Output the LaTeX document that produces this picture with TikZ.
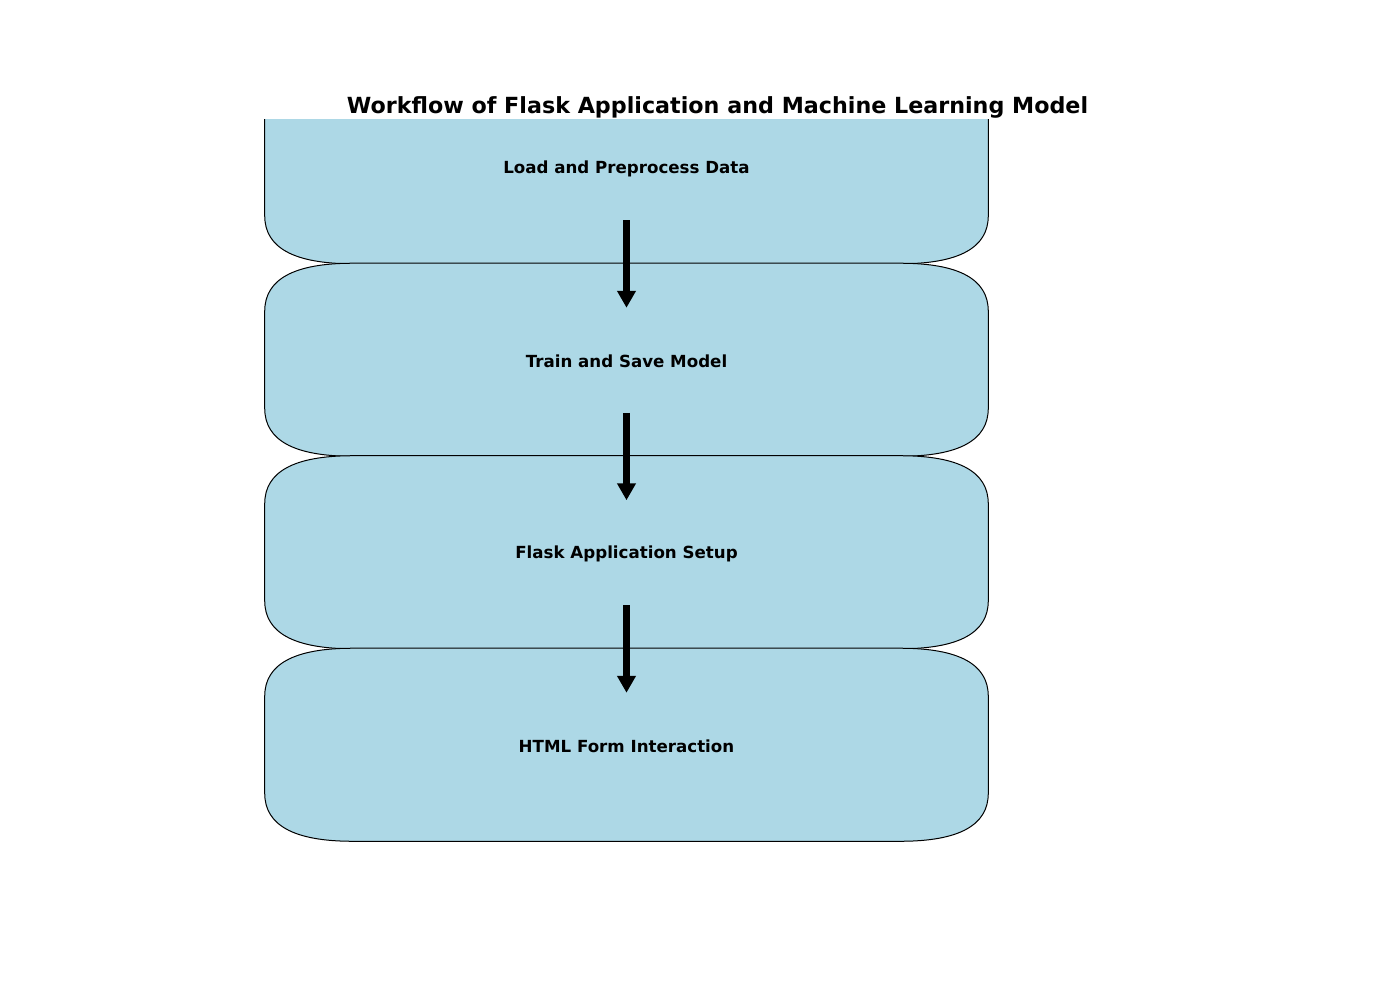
\documentclass[tikz,border=0pt]{standalone}
\usepackage{fontspec}
\setmainfont{DejaVu Sans}
\usetikzlibrary{calc,arrows.meta}
\definecolor{boxfill}{HTML}{ADD8E6}
\newcommand\softbox[1]{%
  \draw[boxline]
    ($(#1.north west)+(0,48)$) -- ($(#1.south west)+(0,-48)$)
    .. controls ($(#1.south west)+(0,-16)$) and ($(#1.south west)+(29.33,0)$) .. ($(#1.south west)+(88,0)$)
    -- ($(#1.south east)+(-88,0)$)
    .. controls ($(#1.south east)+(-29.33,0)$) and ($(#1.south east)+(0,-16)$) .. ($(#1.south east)+(0,-48)$)
    -- ($(#1.north east)+(0,48)$)
    .. controls ($(#1.north east)+(0,16)$) and ($(#1.north east)+(-29.33,0)$) .. ($(#1.north east)+(-88,0)$)
    -- ($(#1.north west)+(88,0)$)
    .. controls ($(#1.north west)+(29.33,0)$) and ($(#1.north west)+(0,16)$) .. cycle;}
\tikzset{
  boxline/.style={draw=black, line width=0.72pt, fill=boxfill},
  stepnode/.style={rectangle, draw=none, inner sep=0pt, minimum width=520.56pt, minimum height=138.6pt,
    font=\bfseries\fontsize{12}{14}\selectfont},
  flowarrow/.style={line width=5.04pt, -{Triangle[width=12.96pt, length=12.24pt]}},
  titlenode/.style={font=\bfseries\fontsize{16}{19}\selectfont}
}
\begin{document}
\begin{tikzpicture}[x=0.72pt, y=-0.72pt]
\fill[white] (0,0) rectangle (1400,1000);
\useasboundingbox (0,0) rectangle (1400,1000);
\node[titlenode] (title) at (717.5,107) {Workflow of Flask Application and Machine Learning Model};
\path (626.5,167.25) node[stepnode] (b1) {}
      (626.5,359.75) node[stepnode] (b2) {}
      (626.5,552.25) node[stepnode] (b3) {}
      (626.5,744.75) node[stepnode] (b4) {};
\begin{scope}
\clip (0,120) rectangle (1400,1000);
\softbox{b1}
\end{scope}
\softbox{b2}
\softbox{b3}
\softbox{b4}
\node[stepnode] (l1) at ($(b1.center)+(0,2)$) {Load and Preprocess Data};
\node[stepnode] (l2) at ($(b2.center)+(0,2)$) {Train and Save Model};
\node[stepnode] (l3) at ($(b3.center)+(0,2)$) {Flask Application Setup};
\node[stepnode] (l4) at ($(b4.center)+(0,2)$) {HTML Form Interaction};
\draw[flowarrow] ($(l1.center)+(0,51)$) -- ($(l2.center)+(0,-54)$);
\draw[flowarrow] ($(l2.center)+(0,51)$) -- ($(l3.center)+(0,-54)$);
\draw[flowarrow] ($(l3.center)+(0,51)$) -- ($(l4.center)+(0,-54)$);
\end{tikzpicture}
\end{document}
